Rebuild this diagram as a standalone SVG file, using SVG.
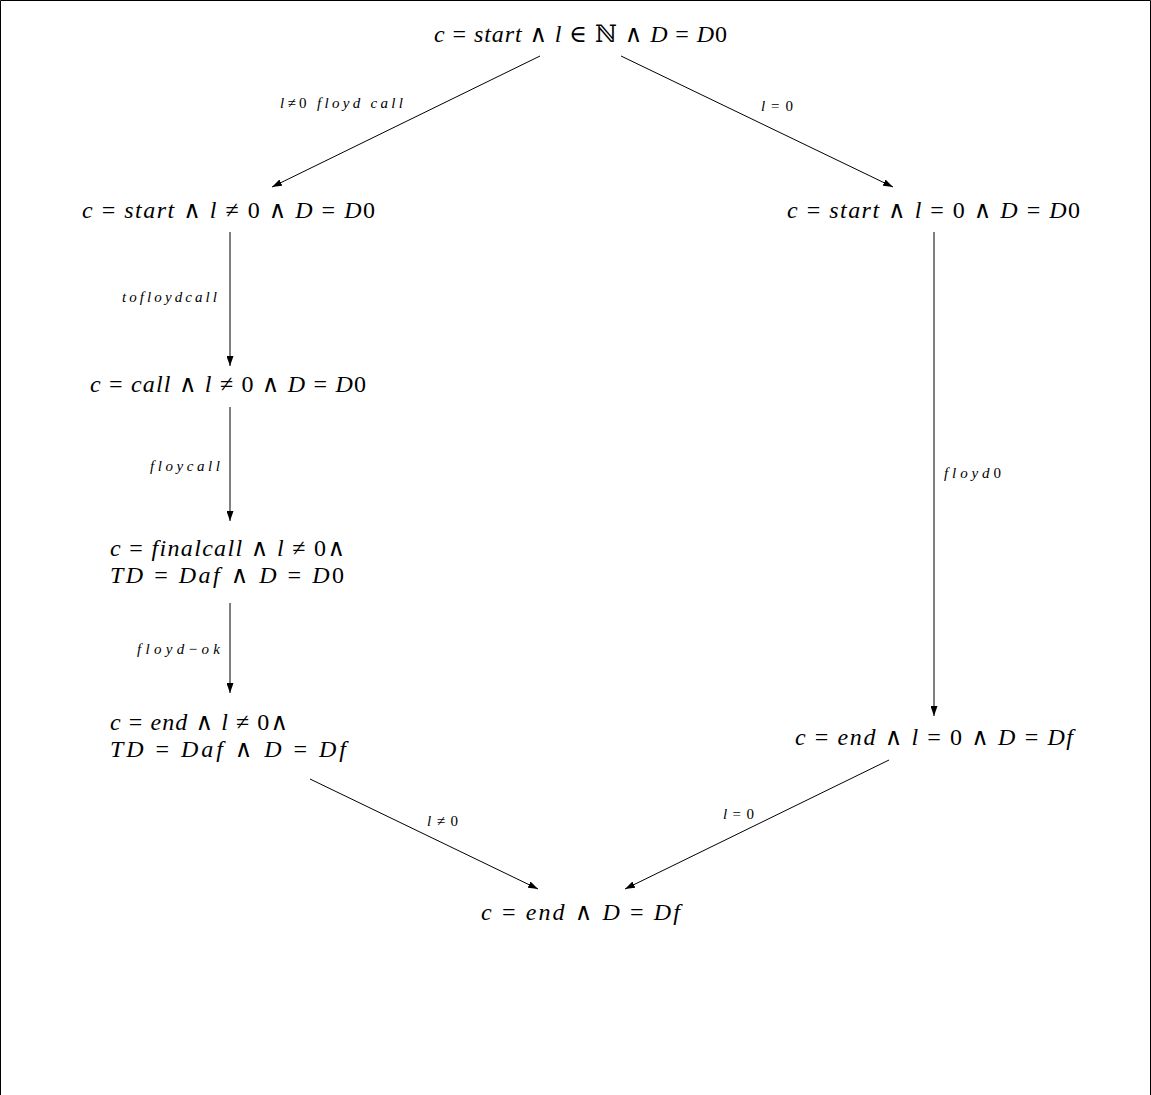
<svg xmlns="http://www.w3.org/2000/svg" width="1151" height="1095" viewBox="0 0 1151 1095">
<style>
.m{font-family:"Liberation Serif","DejaVu Serif",serif;font-size:24px;fill:#000}
.i{font-style:italic}
.lb{font-family:"Liberation Serif","DejaVu Serif",serif;font-size:15px;font-style:italic;fill:#000}
.up{font-style:normal}
.e{stroke:#000;stroke-width:1;fill:none;marker-end:url(#ah)}
</style>
<defs>
<marker id="ah" viewBox="0 0 10 7" refX="10" refY="3.5" markerWidth="10" markerHeight="7" markerUnits="userSpaceOnUse" orient="auto">
<path d="M0,0 L10,3.5 L0,7 Z" fill="#000"/>
</marker>
</defs>
<rect width="1151" height="1095" fill="#fff"/>
<path d="M0.5,1095 V0.5 H1150.5 V1095" stroke="#000" stroke-width="1" fill="none"/>
<g id="n1"><text class="m" x="434" y="42" textLength="293" lengthAdjust="spacing"><tspan class="i">c</tspan> = <tspan class="i">start</tspan> ∧ <tspan class="i">l</tspan> ∈ ℕ ∧ <tspan class="i">D</tspan> = <tspan class="i">D</tspan>0</text></g>
<g id="n2"><text class="m" x="82" y="218" textLength="293" lengthAdjust="spacing"><tspan class="i">c</tspan> = <tspan class="i">start</tspan> ∧ <tspan class="i">l</tspan> ≠ 0 ∧ <tspan class="i">D</tspan> = <tspan class="i">D</tspan>0</text></g>
<g id="n3"><text class="m" x="787" y="218" textLength="293" lengthAdjust="spacing"><tspan class="i">c</tspan> = <tspan class="i">start</tspan> ∧ <tspan class="i">l</tspan> = 0 ∧ <tspan class="i">D</tspan> = <tspan class="i">D</tspan>0</text></g>
<g id="n4"><text class="m" x="90" y="392" textLength="276" lengthAdjust="spacing"><tspan class="i">c</tspan> = <tspan class="i">call</tspan> ∧ <tspan class="i">l</tspan> ≠ 0 ∧ <tspan class="i">D</tspan> = <tspan class="i">D</tspan>0</text></g>
<g id="n5"><text class="m" x="110" y="556" textLength="235" lengthAdjust="spacing"><tspan class="i">c</tspan> = <tspan class="i">finalcall</tspan> ∧ <tspan class="i">l</tspan> ≠ 0∧</text><text class="m" x="110" y="583" textLength="234" lengthAdjust="spacing"><tspan class="i">TD</tspan> = <tspan class="i">Daf</tspan> ∧ <tspan class="i">D</tspan> = <tspan class="i">D</tspan>0</text></g>
<g id="n6"><text class="m" x="110" y="730" textLength="178" lengthAdjust="spacing"><tspan class="i">c</tspan> = <tspan class="i">end</tspan> ∧ <tspan class="i">l</tspan> ≠ 0∧</text><text class="m" x="110" y="757" textLength="236" lengthAdjust="spacing"><tspan class="i">TD</tspan> = <tspan class="i">Daf</tspan> ∧ <tspan class="i">D</tspan> = <tspan class="i">Df</tspan></text></g>
<g id="n7"><text class="m" x="795" y="745" textLength="278" lengthAdjust="spacing"><tspan class="i">c</tspan> = <tspan class="i">end</tspan> ∧ <tspan class="i">l</tspan> = 0 ∧ <tspan class="i">D</tspan> = <tspan class="i">Df</tspan></text></g>
<g id="n8"><text class="m" x="481" y="920" textLength="199" lengthAdjust="spacing"><tspan class="i">c</tspan> = <tspan class="i">end</tspan> ∧ <tspan class="i">D</tspan> = <tspan class="i">Df</tspan></text></g>
<g id="edges">
<line class="e" x1="540" y1="56" x2="272" y2="187"/>
<line class="e" x1="621" y1="56" x2="893" y2="187"/>
<line class="e" x1="230" y1="232" x2="230" y2="366"/>
<line class="e" x1="230" y1="407" x2="230" y2="521"/>
<line class="e" x1="230" y1="603" x2="230" y2="693"/>
<line class="e" x1="934" y1="232" x2="934" y2="716"/>
<line class="e" x1="310" y1="779" x2="538" y2="889"/>
<line class="e" x1="889" y1="760" x2="625" y2="889"/>
<text class="lb" x="280" y="108" textLength="123" lengthAdjust="spacing">l<tspan class="up">≠0 </tspan>floyd call</text>
<text class="lb" x="761" y="111" textLength="32" lengthAdjust="spacing">l<tspan class="up">=0</tspan></text>
<text class="lb" x="122" y="302" textLength="95" lengthAdjust="spacing">tofloydcall</text>
<text class="lb" x="150" y="471" textLength="70" lengthAdjust="spacing">floycall</text>
<text class="lb" x="137" y="654" textLength="83" lengthAdjust="spacing">floyd<tspan class="up">−</tspan>ok</text>
<text class="lb" x="944" y="478" textLength="57" lengthAdjust="spacing">floyd<tspan class="up">0</tspan></text>
<text class="lb" x="427" y="826" textLength="31" lengthAdjust="spacing">l<tspan class="up">≠0</tspan></text>
<text class="lb" x="723" y="819" textLength="31" lengthAdjust="spacing">l<tspan class="up">=0</tspan></text>
</g>
</svg>
